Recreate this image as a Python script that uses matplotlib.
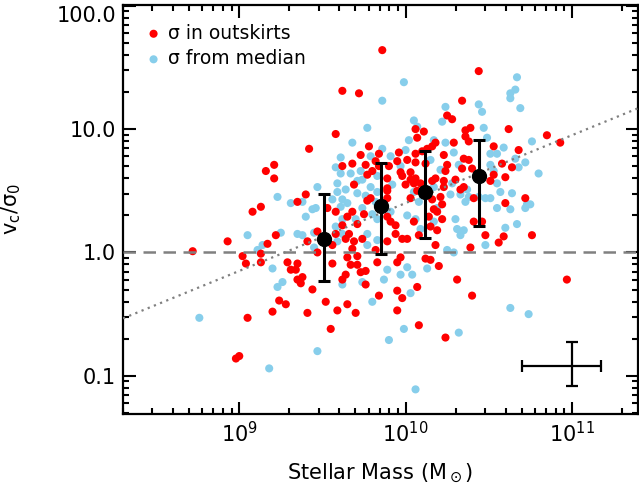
# Import libraries
import numpy as np
import matplotlib
matplotlib.use('Agg')
import matplotlib.pyplot as plt

# Galaxies, sigma measured in the outskirts (log10 M*, log10 v_c/sigma_0)
red_logm = [10.34, 10.25, 10.28, 10.06, 10.11, 9.58, 10.36, 10.39, 10.36, 9.42,
            10.07, 10.18, 10.16, 10.13, 10.29, 10.38, 10.53, 9.78, 9.84, 9.96,
            10.06, 10.10, 10.23, 10.35, 10.38, 9.73, 9.68, 9.76, 9.62, 9.82,
            9.84, 9.90, 9.95, 10.01, 10.06, 10.12, 10.25, 10.34, 10.40, 9.77,
            9.80, 9.89, 9.97, 9.98, 10.03, 10.03, 10.06, 10.18, 10.24, 10.23,
            10.30, 10.35, 10.53, 10.51, 9.69, 9.89, 10.00, 10.05, 10.09, 10.16,
            10.23, 10.33, 10.41, 9.40, 9.77, 9.79, 9.89, 9.89, 10.03, 10.07,
            10.16, 10.21, 10.22, 10.17, 9.68, 9.75, 9.71, 9.65, 9.62, 9.89,
            9.91, 9.94, 10.05, 10.14, 10.19, 10.22, 10.15, 10.19, 10.41, 10.46,
            10.48, 10.56, 10.39, 9.53, 9.58, 9.41, 9.47, 9.56, 9.58, 9.66,
            9.64, 9.69, 9.68, 9.74, 9.82, 9.89, 9.94, 9.98, 10.01, 10.08,
            9.65, 9.71, 9.67, 9.71, 9.56, 9.64, 9.62, 9.73, 9.76, 9.76,
            9.83, 9.95, 9.97, 10.07, 10.12, 10.15, 10.20, 10.18, 10.31, 10.40,
            9.38, 9.44, 9.52, 9.41, 9.55, 9.59, 9.65, 9.70, 9.84, 9.95,
            9.98, 9.95, 10.08, 10.24,
            9.22, 9.17, 9.13, 9.13, 9.29, 9.35, 9.31, 9.34, 9.35, 9.37,
            9.24, 9.28, 9.20, 9.86, 9.62, 9.72, 9.16, 9.21, 9.21, 9.13,
            9.08, 9.35, 8.93, 9.47, 8.72, 9.02, 9.04, 9.05, 8.98, 9.00,
            10.44, 10.62, 10.68, 10.60, 10.58, 10.64, 10.60, 10.59, 10.85, 10.93,
            10.72, 10.76, 10.97]
red_logv = [1.23, 1.11, 1.08, 1.00, 0.98, 0.96, 0.99, 1.01, 0.94, 0.84,
            0.93, 0.89, 0.86, 0.84, 0.89, 0.90, 0.86, 0.86, 0.80, 0.81,
            0.80, 0.82, 0.79, 0.76, 0.75, 0.79, 0.72, 0.71, 0.70, 0.74,
            0.70, 0.70, 0.74, 0.75, 0.73, 0.72, 0.71, 0.68, 0.68, 0.63,
            0.66, 0.60, 0.65, 0.62, 0.65, 0.59, 0.60, 0.60, 0.66, 0.58,
            0.59, 0.53, 0.63, 0.58, 0.55, 0.52, 0.55, 0.56, 0.56, 0.58,
            0.53, 0.51, 0.44, 0.47, 0.42, 0.44, 0.50, 0.44, 0.44, 0.50,
            0.43, 0.45, 0.39, 0.35, 0.33, 0.31, 0.23, 0.29, 0.22, 0.29,
            0.25, 0.22, 0.25, 0.29, 0.33, 0.27, 0.21, 0.18, 0.25, 0.25,
            0.14, 0.08, 0.04, 0.36, 0.33, 0.09, 0.00, 0.06, 0.15, 0.15,
            0.11, 0.09, 0.03, 0.11, 0.02, 0.09, 0.15, 0.11, 0.11, 0.14,
            -0.04, -0.03, -0.10, -0.10, -0.09, -0.18, -0.22, -0.16, -0.15, -0.26,
            -0.08, -0.08, -0.04, -0.28, -0.05, -0.06, -0.11, 0.06, -0.22, -0.35,
            -0.20, -0.30, -0.40, -0.49, -0.62, -0.47, -0.42, -0.49, -0.35, -0.31,
            -0.37, -0.47, -0.59, -0.69,
            0.14, 0.07, -0.01, -0.08, -0.08, -0.09, -0.14, -0.14, -0.22, -0.25,
            -0.39, -0.42, -0.48, 1.64, 1.31, 1.29, 0.66, 0.71, 0.60, 0.37,
            0.33, 0.41, 0.09, 0.17, 0.01, -0.03, -0.09, -0.53, -0.86, -0.84,
            1.47, 1.00, 0.83, 0.61, 0.72, 0.69, 0.40, 0.13, 0.95, 0.89,
            0.44, 0.14, -0.22]

# Galaxies, sigma from the median of the map
blue_logm = [9.86, 10.24, 10.44, 10.46, 10.22, 10.05, 10.07, 9.77, 10.47, 9.68,
             10.02, 10.17, 10.24, 10.49, 10.51, 10.55, 9.86, 9.91, 10.00, 10.29,
             9.61, 9.79, 9.58, 9.97, 10.15, 10.32, 10.51, 9.61, 9.67, 9.73,
             9.83, 10.21, 10.28, 10.37, 10.55, 9.71, 9.74, 9.59, 9.79, 9.92,
             10.17, 10.27, 10.33, 10.38, 10.44, 10.48, 10.51, 9.47, 9.59, 9.64,
             9.71, 9.76, 9.82, 9.83, 10.05, 10.08, 10.19, 10.36, 9.56, 9.62,
             9.61, 9.74, 9.70, 9.65, 9.58, 9.62, 9.80, 9.83, 9.91, 10.01,
             10.06, 10.17, 10.09, 10.30, 10.31, 10.35, 10.55, 10.48, 9.38, 9.40,
             9.44, 9.46, 9.45, 9.59, 9.62, 9.77, 9.77, 9.83, 9.62, 9.74,
             9.89, 10.01, 9.97, 10.04, 10.13, 10.25, 10.29, 9.80, 10.03, 9.99,
             9.90, 10.32,
             9.35, 9.25, 9.14, 9.20, 9.26, 9.23, 9.47, 9.18, 9.87, 9.23,
             9.31, 9.38, 9.05, 9.11, 9.45, 8.76, 10.06, 9.99, 10.53, 10.33,
             10.60, 10.57, 10.59,
             10.67, 10.66, 10.63, 10.63, 10.69, 10.76, 10.66, 10.68, 10.72, 10.80,
             10.64, 10.73, 10.75, 10.72, 10.63, 10.67, 10.63, 10.74]
blue_logv = [1.23, 1.18, 1.20, 1.14, 1.06, 1.07, 1.02, 1.01, 1.01, 0.89,
             0.91, 0.91, 0.89, 0.93, 0.80, 0.80, 0.84, 0.78, 0.83, 0.81,
             0.77, 0.78, 0.69, 0.70, 0.75, 0.71, 0.71, 0.64, 0.64, 0.66,
             0.62, 0.67, 0.56, 0.51, 0.56, 0.58, 0.59, 0.56, 0.53, 0.55,
             0.53, 0.47, 0.47, 0.45, 0.45, 0.44, 0.44, 0.53, 0.49, 0.51,
             0.48, 0.46, 0.41, 0.49, 0.49, 0.41, 0.36, 0.41, 0.43, 0.43,
             0.37, 0.36, 0.27, 0.40, 0.21, 0.27, 0.31, 0.27, 0.33, 0.30,
             0.27, 0.25, 0.19, 0.27, 0.19, 0.18, 0.36, 0.06, 0.14, 0.29,
             0.35, 0.36, 0.16, 0.09, 0.15, 0.15, 0.06, 0.10, -0.26, -0.24,
             -0.14, -0.12, -0.18, -0.18, -0.13, 0.02, 0.00, -0.40, -0.33, -0.62,
             -0.71, -0.65,
             0.15, 0.16, 0.06, -0.13, -0.24, -0.28, -0.80, -0.94, -0.22, 0.45,
             0.40, 0.41, 0.14, 0.02, 0.04, -0.53, -1.11, 1.38, 0.66, 0.14,
             0.20, 0.49, 0.85,
             1.42, 1.32, 1.29, 1.25, 1.17, 0.90, 0.76, 0.69, 0.73, 0.64,
             0.48, 0.39, 0.39, 0.36, 0.35, 0.23, -0.45, -0.50]

# Binned medians with their spread
bin_mass = [3.25e9, 7.1e9, 1.31e10, 2.76e10]
bin_ratio = [1.29, 2.39, 3.10, 4.19]
bin_low = [0.59, 0.975, 1.32, 1.64]
bin_high = [2.99, 5.33, 6.68, 8.19]

# Typical uncertainty
err_mass, err_mass_lo, err_mass_hi = 1.0e11, 5.0e10, 1.5e11
err_ratio, err_ratio_lo, err_ratio_hi = 0.12, 0.082, 0.189

# Reference relation, log(v/sigma) = a + b (log M - 10)
fit_a, fit_b = 0.4, 0.55

plt.rcParams['font.family'] = 'DejaVu Sans'
fig = plt.figure(figsize=(6.39, 4.92), dpi=100)
ax = fig.add_axes([0.1925, 0.1585, 0.806, 0.8315])

red_m = 10**np.array(red_logm)
red_v = 10**np.array(red_logv)
blue_m = 10**np.array(blue_logm)
blue_v = 10**np.array(blue_logv)

ax.scatter(blue_m, blue_v, s=34, color='#87ceeb', edgecolors='none', zorder=2,
           label='σ from median')
ax.scatter(red_m, red_v, s=34, color='#ff0000', edgecolors='none', zorder=3,
           label='σ in outskirts')

xline = np.array([2e8, 2.5e11])
ax.plot(xline, 10**(fit_a + fit_b*(np.log10(xline) - 10)), color='#808080',
        linestyle=(0, (1, 2)), linewidth=1.6, zorder=4)
ax.axhline(1.0, color='#808080', linestyle=(0, (5, 3)), linewidth=1.8, zorder=4)

bm = np.array(bin_mass)
br = np.array(bin_ratio)
yerr = [br - np.array(bin_low), np.array(bin_high) - br]
ax.errorbar(bm, br, yerr=yerr, fmt='o', color='black', markersize=10,
            elinewidth=2.2, capsize=4, capthick=2.2, zorder=5)

ax.errorbar([err_mass], [err_ratio],
            xerr=[[err_mass - err_mass_lo], [err_mass_hi - err_mass]],
            yerr=[[err_ratio - err_ratio_lo], [err_ratio_hi - err_ratio]],
            fmt='none', ecolor='black', elinewidth=1.6, capsize=4, capthick=1.6)

ax.set_xscale('log')
ax.set_yscale('log')
ax.set_xlim(2e8, 2.5e11)
ax.set_ylim(0.049, 101.5)
ax.set_yticks([0.1, 1, 10, 100])
ax.set_yticklabels(['0.1', '1.0', '10.0', '100.0'])

ax.set_xlabel('Stellar Mass (M$_\\odot$)', fontsize=15)
ax.xaxis.set_label_coords(0.5, -0.118)
ax.set_ylabel('v$_\\mathregular{c}$/σ$_\\mathregular{0}$', fontsize=15)
ax.yaxis.set_label_coords(-0.195, 0.5)
ax.tick_params(axis='both', which='both', direction='in', top=True, right=True,
               labelsize=15, width=1.5)
ax.tick_params(axis='both', which='major', length=9, pad=5)
ax.tick_params(axis='both', which='minor', length=4.5)
for sp in ax.spines.values():
    sp.set_linewidth(1.6)
# keep the top label inside the figure
ax.get_yticklabels()[-1].set_verticalalignment('top')

handles, labels = ax.get_legend_handles_labels()
ax.legend(handles[::-1], labels[::-1], loc='upper left', frameon=False,
          fontsize=13.5, handlelength=0.6, handletextpad=0.45,
          labelspacing=0.35, borderaxespad=0.6, bbox_to_anchor=(0.012, 1.0))

fig.savefig('out.png', dpi=100)
plt.close(fig)
